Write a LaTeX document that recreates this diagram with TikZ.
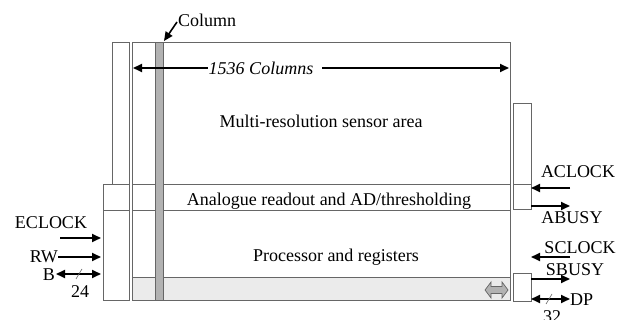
\documentclass[tikz,border=0pt]{standalone}
\usepackage{fontspec}
\setmainfont{Liberation Serif}
\usetikzlibrary{arrows.meta}
\begin{document}
\begin{tikzpicture}[x=1pt,y=-1pt,
  box/.style={draw=black!60,line width=0.9pt,inner sep=0pt,anchor=north west},
  lbl/.style={font=\fontsize{18}{20}\selectfont,inner sep=0pt},
  sig/.style={line width=1.8pt,-{Triangle[length=9pt,width=8pt]}},
  bisig/.style={line width=1.8pt,{Triangle[length=9pt,width=8pt]}-{Triangle[length=9pt,width=8pt]}}]
\useasboundingbox (0,0) rectangle (622,320);
% grey strip
\fill[black!8] (132,277) rectangle (510,300);
% main chip
\node[box,minimum width=378pt,minimum height=258pt] (main) at (132,42) {};
\draw[black!60,line width=0.9pt] (132,184) -- (510,184) (132,210) -- (510,210) (132,277) -- (510,277);
% column
\node[box,fill=black!30,minimum width=8pt,minimum height=258pt] (col) at (155,42) {};
% left strips
\node[box,minimum width=17pt,minimum height=142pt] (ltop) at (112,42) {};
\node[box,minimum width=26pt,minimum height=116pt] (lbox) at (103,184) {};
\draw[black!60,line width=0.9pt] (103,210) -- (129,210);
% right strips
\node[box,minimum width=18pt,minimum height=106pt] (rtop) at (513,103) {};
\draw[black!60,line width=0.9pt] (513,184) -- (531,184);
\node[box,minimum width=18pt,minimum height=28pt] (rbot) at (513,273) {};
% texts
\node[lbl] (t1) at (321,121) {Multi-resolution sensor area};
\node[lbl] (t2) at (329,201) {Analogue readout and AD/thresholding};
\node[lbl] (t3) at (336,257) {Processor and registers};
\node[lbl,anchor=west] (tcol) at (178,20) {Column};
\node[lbl,font=\fontsize{18}{20}\selectfont\itshape] (tcols) at (261,68) {1536 Columns};
% column arrow
\coordinate (cs) at (177,22);
\coordinate (ce) at (164,41);
\draw[line width=1.6pt,-{Triangle[length=9pt,width=8pt]}] (cs) -- (ce);
% 1536 columns arrows
\coordinate (cl) at (133,68);
\coordinate (cr) at (509,68);
\draw[sig] (tcols.west) ++(-1,0) -- (cl);
\draw[sig] (tcols.east) ++(9,0) -- (cr);
% grey double arrow
\coordinate (garrow) at (496.5,290);
\draw[black!60,fill=black!30,line width=0.7pt]
  (485,290) -- (491,282) -- (491,286.5) -- (502,286.5) -- (502,282) -- (508,290)
  -- (502,298) -- (502,293.5) -- (491,293.5) -- (491,298) -- cycle;
% left signals
\node[lbl] (eclk) at (51,223) {ECLOCK};
\node[lbl,anchor=east] (rw) at (58,257) {RW};
\node[lbl,anchor=east] (bb) at (55,275) {B};
\node[lbl] (n24) at (80,292) {24};
\coordinate (e1) at (60,238); \coordinate (e2) at (101,238);
\coordinate (r1) at (58,257); \coordinate (r2) at (101,257);
\coordinate (b1) at (56,274); \coordinate (b2) at (101,274);
\draw[sig] (e1) -- (e2);
\draw[sig] (r1) -- (r2);
\draw[bisig] (b1) -- (b2);
\draw[black!60,line width=0.6pt] (76,279) -- (82,269);
% right signals
\node[lbl] (aclk) at (578,172) {ACLOCK};
\node[lbl] (abusy) at (572,218) {ABUSY};
\node[lbl] (sclk) at (580,248) {SCLOCK};
\node[lbl] (sbusy) at (575,270) {SBUSY};
\node[lbl,anchor=west] (dp) at (570,300) {DP};
\node[lbl] (n32) at (552,317) {32};
\coordinate (a1) at (570,188); \coordinate (a2) at (531,188);
\coordinate (ab1) at (531,206); \coordinate (ab2) at (570,206);
\coordinate (s1) at (570,257); \coordinate (s2) at (531,257);
\coordinate (sb1) at (531,279); \coordinate (sb2) at (570,279);
\coordinate (d1) at (531,299); \coordinate (d2) at (570,299);
\draw[sig] (a1) -- (a2);
\draw[sig] (ab1) -- (ab2);
\draw[sig] (s1) -- (s2);
\draw[sig] (sb1) -- (sb2);
\draw[bisig] (d1) -- (d2);
\draw[black!60,line width=0.6pt] (546,304) -- (552,294);
\end{tikzpicture}
\end{document}
